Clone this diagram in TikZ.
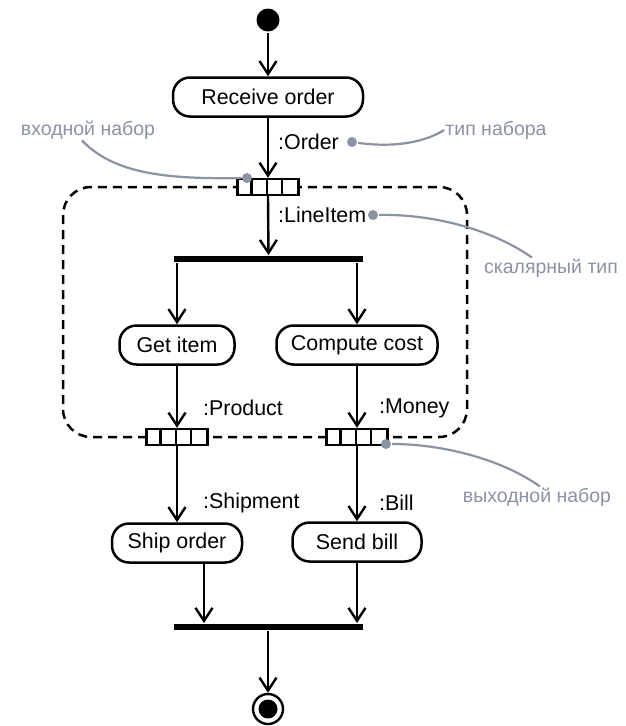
\documentclass[tikz,border=0pt]{standalone}
\usepackage{fontspec}
\setmainfont{Liberation Sans}
\usetikzlibrary{positioning, arrows.meta, calc}
\definecolor{notegray}{RGB}{138,146,163}
% four cells of a pin box
\newcommand\pincells[1]{%
    \foreach \k in {1,2,3}
        \draw ([xshift=\k*15.25pt]#1.north west) -- ([xshift=\k*15.25pt]#1.south west);}

\begin{document}
\begin{tikzpicture}[
    x=1pt, y=-1pt, line width=2.4pt,
    font=\fontsize{21.4}{26}\selectfont,
    >={Straight Barb[length=13pt, width=17pt]},
    base_box/.style ={draw, line width=2.5pt, rounded corners=17pt, minimum height=39pt, inner sep=0pt},
    action/.style   ={base_box, fill=white},
    bar/.style      ={fill=black, inner sep=0pt, minimum height=5.5pt, minimum width=189pt},
    pin_box/.style  ={draw, fill=white, line width=2.4pt, minimum width=61pt, minimum height=16pt, inner sep=0pt},
    flow/.style     ={->},
    type_lbl/.style ={anchor=west, inner sep=0pt},
    note/.style     ={text=notegray, font=\fontsize{19.5}{24}\selectfont, inner sep=0pt},
    note_dot/.style ={circle, fill=notegray, inner sep=0pt, minimum size=10pt},
    note_line/.style={draw=notegray, line width=2.2pt},
    region/.style   ={dash pattern=on 9pt off 6pt, line width=2.5pt, rounded corners=28pt}
]
\useasboundingbox (0,0) rectangle (626,726);

% Expansion region
\draw[region] (63,187) rectangle (467,437);

% Actions
\node[circle, fill=black, inner sep=0pt, minimum size=23pt] (start_node) at (268,20) {};
\node[action, minimum width=190pt] (receive_order) at (268,97)  {Receive order};
\node[action, minimum width=115pt] (get_item)      at (177,345) {Get item};
\node[action, minimum width=161pt] (compute_cost)  at (357,345) {Compute cost};
\node[action, minimum width=130pt] (ship_order)    at (177,543) {Ship order};
\node[action, minimum width=129pt] (send_bill)     at (357,542) {Send bill};

% Fork and join
\node[bar] (fork_bar) at (268.5,259) {};
\node[bar] (join_bar) at (268.5,627) {};

% Pins
\node[pin_box] (in_pin)    at (268,187) {}; \pincells{in_pin}
\node[pin_box] (prod_pin)  at (177,437) {}; \pincells{prod_pin}
\node[pin_box] (money_pin) at (357,437) {}; \pincells{money_pin}

% Final node
\node[circle, draw, line width=2.4pt, inner sep=0pt, minimum size=30pt] (final_node) at (268,709) {};
\node[circle, fill=black, inner sep=0pt, minimum size=19pt] (final_dot) at (final_node) {};

% Flows
\draw[flow] (start_node) -- (receive_order.north);
\draw[flow] (receive_order) -- (in_pin.north);
\draw[flow] (in_pin.south) -- (fork_bar.north);
\draw[flow] (fork_bar.south -| get_item) -- (get_item.north);
\draw[flow] (fork_bar.south -| compute_cost) -- (compute_cost.north);
\draw[flow] (get_item) -- (prod_pin.north);
\draw[flow] (compute_cost) -- (money_pin.north);
\draw[flow] (prod_pin.south) -- (ship_order.north);
\draw[flow] (money_pin.south) -- (send_bill.north);
\coordinate (ship_out) at ([xshift=27pt]ship_order.south);
\draw[flow] (ship_out) -- (ship_out |- join_bar.north);
\draw[flow] (send_bill.south) -- (send_bill.south |- join_bar.north);
\draw[flow] (join_bar.south -| final_node) -- (final_node.north);

% Object types
\node[type_lbl] (order_lbl)    at (277,142) {:Order};
\node[type_lbl] (lineitem_lbl) at (277,215) {:LineItem};
\node[type_lbl] (product_lbl)  at (202,408) {:Product};
\node[type_lbl] (money_lbl)    at (378,408) {:Money};
\node[type_lbl] (shipment_lbl) at (202,503) {:Shipment};
\node[type_lbl] (bill_lbl)     at (378,503) {:Bill};

% Notes
\node[note] (in_note)     at (88,130)  {входной набор};
\node[note] (type_note)   at (496,130) {тип набора};
\node[note] (scalar_note) at (551,268) {скалярный тип};
\node[note] (out_note)    at (537,497) {выходной набор};

\node[note_dot] (in_dot)     at (247,178) {};
\node[note_dot] (order_dot)  at (352,142) {};
\node[note_dot] (scalar_dot) at (373,215) {};
\node[note_dot] (out_dot)    at (386,444) {};

\draw[note_line] ([xshift=-6pt]in_note.south) .. controls (115,175) and (170,179) .. (in_dot);
\draw[note_line] (order_dot) .. controls (395,148) and (425,142) .. (type_note.west);
\draw[note_line] (scalar_dot) .. controls (430,214) and (490,228) .. ([xshift=-19pt]scalar_note.north);
\draw[note_line] (out_dot) .. controls (440,444) and (500,458) .. ([xshift=3pt]out_note.north);

\end{tikzpicture}
\end{document}
